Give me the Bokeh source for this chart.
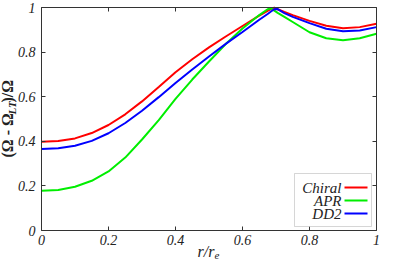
from bokeh.plotting import figure
from bokeh.models import Label, BoxAnnotation, FixedTicker, LinearAxis, Range1d
from bokeh.embed import file_html
from bokeh.resources import INLINE
import math

# ---- data ----
r = [0, 0.05, 0.1, 0.15, 0.2, 0.25, 0.3, 0.35, 0.4, 0.45, 0.5, 0.55, 0.6, 0.65,
     0.675, 0.685, 0.695, 0.705, 0.725, 0.75, 0.8, 0.85, 0.9, 0.95, 1.0]
chiral = [0.398, 0.401, 0.413, 0.437, 0.473, 0.521, 0.579, 0.644, 0.710, 0.768,
          0.821, 0.870, 0.917, 0.964, 0.985, 0.993, 0.999, 0.992, 0.980, 0.966,
          0.940, 0.918, 0.907, 0.912, 0.927]
apr = [0.178, 0.182, 0.196, 0.223, 0.265, 0.327, 0.408, 0.495, 0.590, 0.677,
       0.758, 0.836, 0.906, 0.966, 0.992, 0.996, 0.986, 0.976, 0.958, 0.935,
       0.889, 0.862, 0.853, 0.862, 0.882]
dd2 = [0.366, 0.369, 0.380, 0.402, 0.436, 0.482, 0.537, 0.598, 0.661, 0.722,
       0.780, 0.837, 0.890, 0.945, 0.971, 0.982, 0.992, 0.993, 0.975, 0.958,
       0.930, 0.905, 0.893, 0.897, 0.912]
series_names = ["Chiral", "APR", "DD2"]
series_colors = ["#ff0000", "#00ee00", "#0000ff"]

x_ticks = [0, 0.2, 0.4, 0.6, 0.8, 1.0]
x_tick_labels = ["0", "0.2", "0.4", "0.6", "0.8", "1"]
y_ticks = [0, 0.2, 0.4, 0.6, 0.8, 1.0]
y_tick_labels = ["0", "0.2", "0.4", "0.6", "0.8", "1"]

SERIF = "'Liberation Serif'"
W, H = 380, 261
# pixel layout of the plotting box inside the canvas
X0, X1 = 41, 376      # left / right edge
YT, YB = 7, 230       # top / bottom edge

xr = Range1d(-X0 / (X1 - X0), 1 + (W - X1) / (X1 - X0))
yr = Range1d(-(H - YB) / (YB - YT), 1 + YT / (YB - YT))

p = figure(width=W, height=H, x_range=xr, y_range=yr,
           output_backend="svg", toolbar_location=None, min_border=0,
           x_axis_type=None, y_axis_type=None)
p.grid.visible = False
p.outline_line_color = None
p.background_fill_color = "white"
p.border_fill_color = "white"

axis_style = dict(major_tick_in=4, major_tick_out=0, minor_tick_line_color=None,
                  axis_line_color="#333333", major_tick_line_color="#333333",
                  major_label_text_font=SERIF, major_label_text_font_style="italic",
                  major_label_text_font_size="14px", major_label_text_color="#222222",
                  bounds=(0, 1))

xb = LinearAxis(ticker=FixedTicker(ticks=x_ticks), fixed_location=0,
                major_label_overrides=dict(zip(x_ticks, x_tick_labels)),
                major_label_standoff=4, **axis_style)
yl = LinearAxis(ticker=FixedTicker(ticks=y_ticks), fixed_location=0,
                major_label_overrides=dict(zip(y_ticks, y_tick_labels)),
                major_label_standoff=6, **axis_style)
p.add_layout(xb, "below")
p.add_layout(yl, "left")

hidden = dict(axis_style)
hidden["major_label_text_color"] = None
xt = LinearAxis(ticker=FixedTicker(ticks=x_ticks), fixed_location=1, **hidden)
yrt = LinearAxis(ticker=FixedTicker(ticks=y_ticks), fixed_location=1, **hidden)
p.add_layout(xt, "above")
p.add_layout(yrt, "right")

for ys, name, col in zip((chiral, apr, dd2), series_names, series_colors):
    p.line(r, ys, line_color=col, line_width=2)

# ---- axis titles (screen units, origin bottom-left of canvas) ----
common = dict(x_units="screen", y_units="screen", text_font=SERIF,
              text_color="#222222")
p.add_layout(Label(x=7, y=104, text="(Ω - Ω", angle=math.pi / 2, text_align="left",
                   text_baseline="middle", text_font_size="16px",
                   text_font_style="bold", **common))
p.add_layout(Label(x=11, y=147, text="LT", angle=math.pi / 2, text_align="left",
                   text_baseline="middle", text_font_size="11px",
                   text_font_style="bold italic", **common))
p.add_layout(Label(x=7, y=159, text=")/Ω", angle=math.pi / 2, text_align="left",
                   text_baseline="middle", text_font_size="16px",
                   text_font_style="bold", **common))
p.add_layout(Label(x=197, y=10, text="r/r", text_align="left",
                   text_baseline="middle", text_font_size="16px",
                   text_font_style="italic", **common))
p.add_layout(Label(x=214, y=6, text="e", text_align="left",
                   text_baseline="middle", text_font_size="11px",
                   text_font_style="italic", **common))

# ---- legend (glyph on the right of the label, as in the reference) ----
p.add_layout(BoxAnnotation(left=294, right=371, bottom=35, top=88,
                           left_units="screen", right_units="screen",
                           bottom_units="screen", top_units="screen",
                           fill_color="white", fill_alpha=1.0,
                           line_color="#777777", line_width=1))
for i, (name, col) in enumerate(zip(series_names, series_colors)):
    yy = 74 - 13 * i
    p.add_layout(BoxAnnotation(left=344, right=367, bottom=yy - 1, top=yy + 1,
                               left_units="screen", right_units="screen",
                               bottom_units="screen", top_units="screen",
                               fill_color=col, fill_alpha=1.0, line_color=None))
    p.add_layout(Label(x=341, y=yy, text=name, text_align="right",
                       text_baseline="middle", text_font_size="15px",
                       text_font_style="italic", **common))

open("out.html", "w").write(file_html(p, INLINE))
